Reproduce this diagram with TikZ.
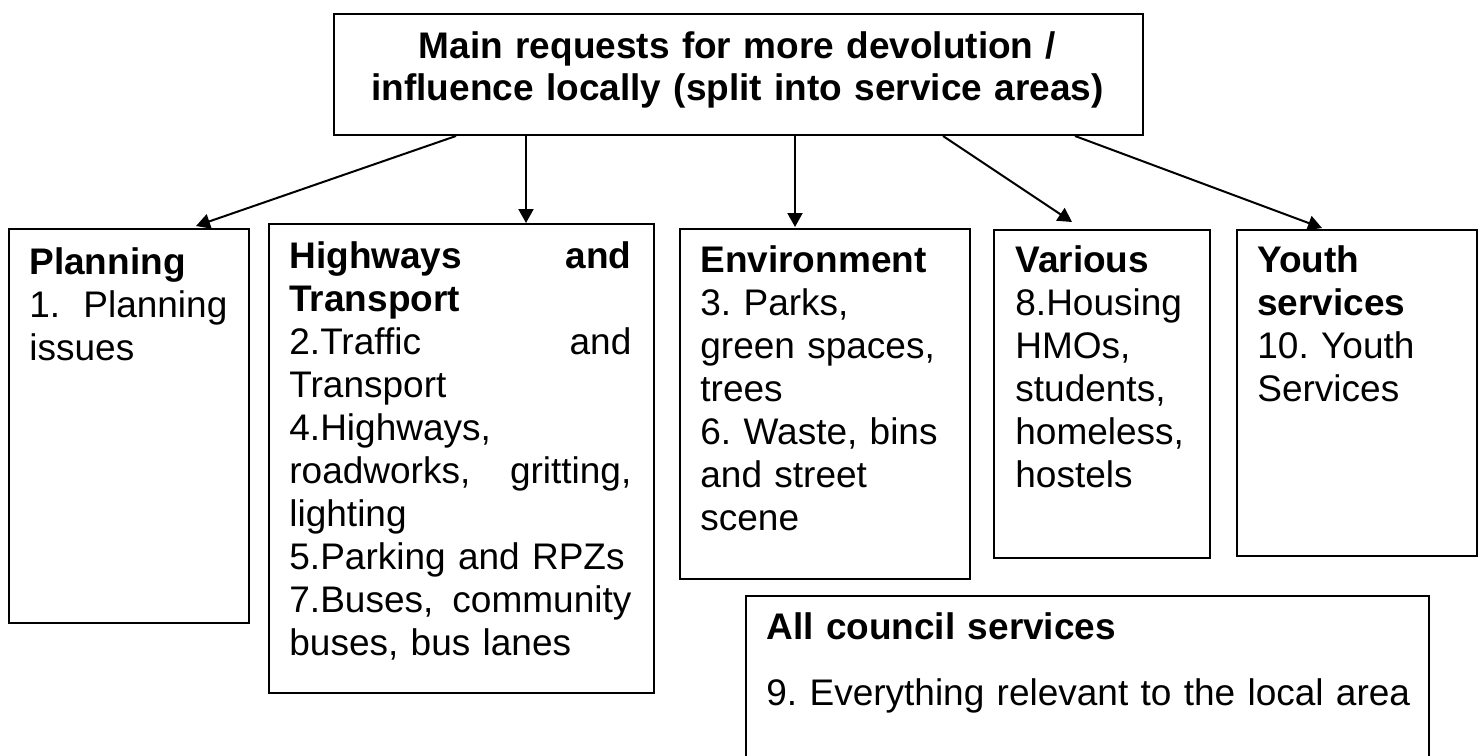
\documentclass[tikz,border=0pt]{standalone}
\usepackage{fontspec}
\setmainfont{Liberation Sans}
\usetikzlibrary{arrows.meta}
\frenchspacing
\begin{document}
\begin{tikzpicture}[x=0.5pt,y=-0.5pt,
  box/.style={draw=black, line width=1pt, rectangle, inner sep=0pt, anchor=north west},
  txt/.style={inner sep=0pt, anchor=base west, align=left, font=\fontsize{18.5}{21.5}\selectfont\frenchspacing},
  ttl/.style={inner sep=0pt, anchor=base, align=center, text width=400pt, font=\fontsize{18.5}{21}\selectfont\bfseries\frenchspacing},
  arr/.style={draw=black, line width=1pt, -{Triangle[length=7pt,width=7.5pt]}}]
\useasboundingbox (0,0) rectangle (1483,755);
\clip (0,0) rectangle (1483,755);
\fill[white] (0,0) rectangle (1483,755);
% boxes
\node[box, minimum width=404.5pt, minimum height=60.5pt] (main) at (333,13) {};
\node[box, minimum width=120pt, minimum height=197pt] (plan) at (8,228) {};
\node[box, minimum width=192.5pt, minimum height=234.5pt] (hwy) at (268,223) {};
\node[box, minimum width=145pt, minimum height=175pt] (env) at (679,228) {};
\node[box, minimum width=108pt, minimum height=164pt] (var) at (993,229) {};
\node[box, minimum width=120pt, minimum height=163pt] (youth) at (1236,229) {};
\node[box, minimum width=341.5pt, minimum height=100pt] (all) at (745,595) {};
% texts
\node[ttl] (maint) at (737.5,58) {Main requests for more devolution /\\influence locally (split into service areas)};
\node[txt, text width=99pt] (plant) at (29,274) {\textbf{Planning}\\1.\hfill Planning\\issues};
\node[txt, text width=171pt] (hwyt) at (289,268) {\textbf{Highways}\hfill\textbf{and}\\\textbf{Transport}\\2.Traffic\hfill and\\Transport\\4.Highways,\\roadworks,\hfill gritting,\\lighting\\5.Parking and RPZs\\7.Buses,\hfill community\\buses, bus lanes};
\node[txt, text width=130pt] (envt) at (700,272) {\textbf{Environment}\\3. Parks,\\green spaces,\\trees\\6. Waste, bins\\and street\\scene};
\node[txt, text width=100pt] (vart) at (1015,272) {\textbf{Various}\\8.Housing\\HMOs,\\students,\\homeless,\\hostels};
\node[txt, text width=100pt] (youtht) at (1257,272) {\textbf{Youth}\\\textbf{services}\\10. Youth\\Services};
\node[txt, text width=330pt] (allt) at (766,639) {\textbf{All council services}\\[11.5pt]9. Everything relevant to the local area};
% connectors
\draw[arr] ([xshift=61.5pt]main.south west) -- ([xshift=94pt,yshift=1pt]plan.north west);
\draw[arr] ([xshift=96.5pt]main.south west) -- ([xshift=129pt]hwy.north west);
\draw[arr] ([xshift=231pt]main.south west) -- ([xshift=58pt,yshift=0.5pt]env.north west);
\draw[arr] ([xshift=305pt]main.south west) -- ([xshift=39.5pt,yshift=3.5pt]var.north west);
\draw[arr] ([xshift=371pt]main.south west) -- ([xshift=43pt,yshift=0.5pt]youth.north west);
\end{tikzpicture}
\end{document}
